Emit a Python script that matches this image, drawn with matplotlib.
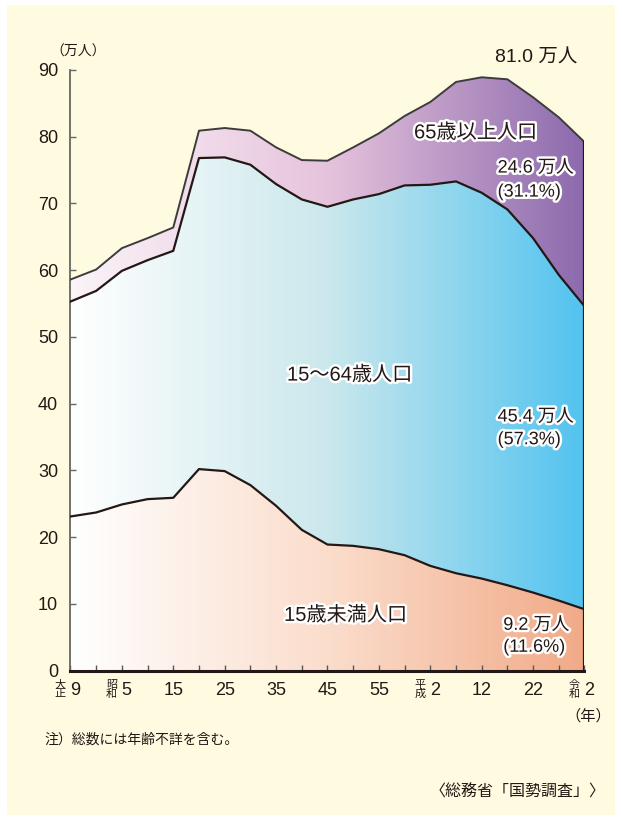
import numpy as np
import matplotlib
matplotlib.use("Agg")
import matplotlib.pyplot as plt
from matplotlib.colors import LinearSegmentedColormap
from matplotlib.patches import PathPatch, Rectangle
import matplotlib.patheffects as pe

plt.rcParams['font.family'] = ['Liberation Sans', 'Noto Sans CJK JP', 'DejaVu Sans']

# 国勢調査 5年ごと (大正9年=1920 ～ 令和2年=2020)、単位: 万人
years = list(range(1920, 2021, 5))
under15 = [23.1, 23.7, 24.9, 25.7, 25.9, 30.2, 29.9, 27.8, 24.7, 21.1, 18.9,
           18.7, 18.2, 17.3, 15.7, 14.6, 13.8, 12.8, 11.7, 10.5, 9.2]
working = [32.2, 33.2, 35.0, 35.8, 37.0, 46.6, 47.0, 48.0, 48.2, 49.5, 50.6,
           51.9, 53.2, 55.4, 57.1, 58.7, 57.8, 56.3, 53.1, 48.8, 45.4]
elderly = [3.3, 3.2, 3.4, 3.3, 3.5, 4.1, 4.4, 5.1, 5.5, 5.9, 6.9,
           7.8, 9.1, 10.4, 12.4, 14.9, 17.3, 19.5, 21.1, 23.6, 24.6]

label_years = [1920, 1930, 1940, 1950, 1960, 1970, 1980, 1990, 2000, 2010, 2020]
label_nums = ["9", "5", "15", "25", "35", "45", "55", "2", "12", "22", "2"]
label_eras = ["大\n正", "昭\n和", "", "", "", "", "", "平\n成", "", "", "令\n和"]

dark = "#231815"
x = np.array(years)
y1 = np.array(under15)
y2 = y1 + np.array(working)
y3 = y2 + np.array(elderly)

fig = plt.figure(figsize=(6.22, 8.22), dpi=100)
fig.patch.set_facecolor("white")
fig.add_artist(Rectangle((7 / 622, 7 / 822), 608 / 622, 810 / 822,
                         transform=fig.transFigure, facecolor="#FEFBE1",
                         edgecolor="none", zorder=0))

ax = fig.add_axes([0.1133, 0.1841, 0.8264, 0.7308])
ax.set_facecolor("none")


def grad_fill(ax, lo, hi, colors):
    poly = ax.fill_between(x, lo, hi, color="none", lw=0)
    patch = PathPatch(poly.get_paths()[0], transform=ax.transData,
                      facecolor="none", edgecolor="none")
    ax.add_patch(patch)
    cmap = LinearSegmentedColormap.from_list("g", colors)
    grad = np.linspace(0, 1, 256).reshape(1, -1)
    im = ax.imshow(grad, cmap=cmap, extent=[1920, 2020, 0, 90],
                   aspect="auto", origin="lower", zorder=1)
    im.set_clip_path(patch)


grad_fill(ax, 0, y1, ["#FFFFFF", "#FBDDCC", "#F1AA88"])
grad_fill(ax, y1, y2, ["#FFFFFF", "#CBE8EC", "#52C3F0"])
grad_fill(ax, y2, y3, ["#FBF4F8", "#E6C3DC", "#8C6AAD"])

ax.plot(x, y1, color=dark, lw=1.6, zorder=3)
ax.plot(x, y2, color=dark, lw=1.6, zorder=3)
ax.plot(x, y3, color="#3c3c3c", lw=1.4, zorder=3)
ax.plot([2020, 2020], [0, y3[-1]], color=dark, lw=1.6, zorder=3)

ax.set_xlim(1920, 2020)
ax.set_ylim(0, 90)
ax.set_yticks(range(0, 91, 10))
ax.set_xticks(years)
ax.set_xticklabels([])
for s in ["top", "right"]:
    ax.spines[s].set_visible(False)
ax.spines["left"].set_color("#666666")
ax.spines["left"].set_linewidth(1.3)
ax.spines["bottom"].set_color(dark)
ax.spines["bottom"].set_linewidth(2.2)
ax.spines["bottom"].set_zorder(4)
ax.tick_params(axis="y", direction="in", length=4, width=1, color="#666666",
               labelsize=13, labelcolor=dark, pad=9)
ax.tick_params(axis="x", direction="in", length=4, width=1, color="#555555")

for yr, num, era in zip(label_years, label_nums, label_eras):
    if era:
        ax.annotate(num, xy=(yr, 0), xycoords=("data", "axes fraction"),
                    xytext=(3.5, -14), textcoords="offset points",
                    ha="center", va="center", fontsize=13, color=dark)
        ax.annotate(era, xy=(yr, 0), xycoords=("data", "axes fraction"),
                    xytext=(-7.5, -13.5), textcoords="offset points",
                    ha="center", va="center", fontsize=8, color=dark,
                    linespacing=0.9)
    else:
        ax.annotate(num, xy=(yr, 0), xycoords=("data", "axes fraction"),
                    xytext=(0, -14), textcoords="offset points",
                    ha="center", va="center", fontsize=13, color=dark)

halo = [pe.withStroke(linewidth=3.5, foreground="white")]
ax.text(1998.8, 80.6, "65歳以上人口", fontsize=14.5, color=dark, ha="center",
        va="center", path_effects=halo, zorder=5)
ax.text(1974.3, 44.3, "15～64歳人口", fontsize=14.5, color=dark, ha="center",
        va="center", path_effects=halo, zorder=5)
ax.text(1973.5, 8.3, "15歳未満人口", fontsize=14.5, color=dark, ha="center",
        va="center", path_effects=halo, zorder=5)

ax.text(2003.1, 75.3, "24.6 万人", fontsize=13, color=dark, va="center",
        path_effects=halo, zorder=5)
ax.text(2003.1, 71.7, "(31.1%)", fontsize=13, color=dark, va="center",
        path_effects=halo, zorder=5)
ax.text(2003.1, 38.0, "45.4 万人", fontsize=13, color=dark, va="center",
        path_effects=halo, zorder=5)
ax.text(2003.1, 34.6, "(57.3%)", fontsize=13, color=dark, va="center",
        path_effects=halo, zorder=5)
ax.text(2004.2, 6.8, "9.2 万人", fontsize=13, color=dark, va="center",
        path_effects=halo, zorder=5)
ax.text(2004.2, 3.5, "(11.6%)", fontsize=13, color=dark, va="center",
        path_effects=halo, zorder=5)
ax.text(2002.5, 91.8, "81.0 万人", fontsize=14, color=dark, va="center",
        clip_on=False)

fig.text(50 / 622, 1 - 52 / 822, "（万人）", fontsize=10, color=dark,
         va="center", ha="left")
fig.text(588 / 622, 1 - 716 / 822, "（年）", fontsize=11, color=dark,
         va="center", ha="center")
fig.text(44 / 622, 1 - 740 / 822, "注）総数には年齢不詳を含む。", fontsize=10,
         color=dark, va="center", ha="left")
fig.text(606 / 622, 1 - 792 / 822, "〈総務省「国勢調査」〉", fontsize=11.5,
         color=dark, va="center", ha="right")

fig.savefig("out.png", dpi=100)
